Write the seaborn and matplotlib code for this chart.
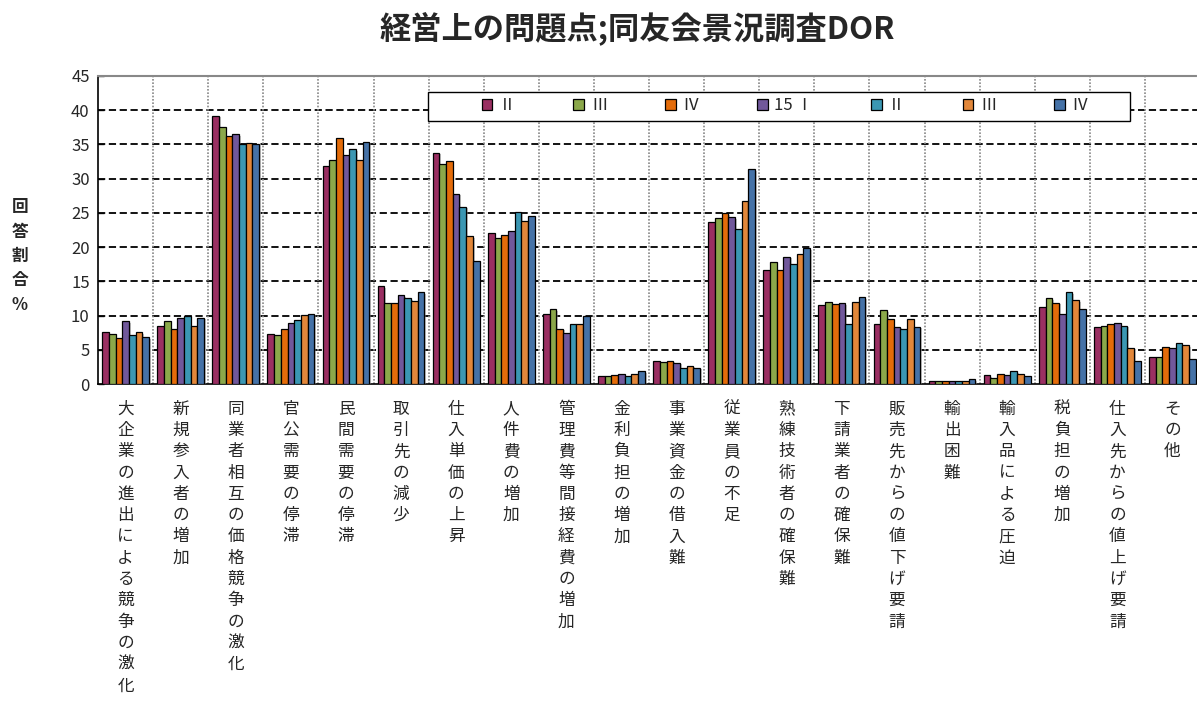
import matplotlib
matplotlib.use("Agg")
import matplotlib.pyplot as plt
import matplotlib.patheffects as pe
from matplotlib.patches import Patch, Rectangle
import numpy as np
import pandas as pd
import seaborn as sns

# 問題項目
categories = [
    "大企業の進出による競争の激化", "新規参入者の増加", "同業者相互の価格競争の激化",
    "官公需要の停滞", "民間需要の停滞", "取引先の減少", "仕入単価の上昇",
    "人件費の増加", "管理費等間接経費の増加", "金利負担の増加", "事業資金の借入難",
    "従業員の不足", "熟練技術者の確保難", "下請業者の確保難", "販売先からの値下げ要請",
    "輸出困難", "輸入品による圧迫", "税負担の増加", "仕入先からの値上げ要請", "その他",
]

# 期別の回答割合(%)
q14_2 = [7.6, 8.5, 39.2, 7.3, 31.9, 14.3, 33.8, 22.1, 10.2, 1.1, 3.3, 23.7, 16.6, 11.5, 8.7, 0.5, 1.3, 11.3, 8.3, 3.9]
q14_3 = [7.3, 9.2, 37.6, 7.1, 32.7, 11.8, 32.1, 21.4, 10.9, 1.2, 3.2, 24.3, 17.8, 12.0, 10.8, 0.5, 0.9, 12.5, 8.5, 4.0]
q14_4 = [6.7, 8.0, 36.3, 8.1, 36.0, 11.8, 32.6, 21.8, 8.1, 1.3, 3.4, 25.0, 16.7, 11.7, 9.5, 0.4, 1.4, 11.9, 8.7, 5.4]
q15_1 = [9.2, 9.7, 36.5, 8.9, 33.4, 13.0, 27.8, 22.4, 7.4, 1.4, 3.1, 24.4, 18.6, 11.8, 8.4, 0.5, 1.3, 10.2, 8.9, 5.3]
q15_2 = [7.1, 9.9, 35.1, 9.4, 34.3, 12.5, 25.9, 25.1, 8.7, 1.2, 2.4, 22.6, 17.5, 8.8, 8.1, 0.4, 1.9, 13.4, 8.5, 6.0]
q15_3 = [7.6, 8.5, 35.2, 10.1, 32.7, 12.1, 21.6, 23.8, 8.7, 1.4, 2.7, 26.8, 19.0, 12.0, 9.5, 0.5, 1.4, 12.2, 5.3, 5.7]
q15_4 = [6.8, 9.7, 35.1, 10.3, 35.4, 13.4, 17.9, 24.6, 9.9, 1.9, 2.4, 31.4, 19.8, 12.7, 8.4, 0.7, 1.2, 10.9, 3.4, 3.7]

period_keys = ["14Ⅱ", "14Ⅲ", "14Ⅳ", "15Ⅰ", "15Ⅱ", "15Ⅲ", "15Ⅳ"]
legend_labels = ["Ⅱ", "Ⅲ", "Ⅳ", "15 Ⅰ", "Ⅱ", "Ⅲ", "Ⅳ"]
series = [q14_2, q14_3, q14_4, q15_1, q15_2, q15_3, q15_4]
colors = ["#9A2F62", "#8BA84A", "#E46C0A", "#71589B", "#3B97B3", "#E2873A", "#4572A7"]

rows = []
for key, vals in zip(period_keys, series):
    for cat, v in zip(categories, vals):
        rows.append({"項目": cat, "期": key, "割合": v})
df = pd.DataFrame(rows)

sns.set_theme(style="white")
plt.rcParams["font.family"] = ["Noto Sans CJK JP", "DejaVu Sans"]

W, H = 1197, 702
fig = plt.figure(figsize=(W / 100, H / 100), dpi=100)
ax = fig.add_axes([98 / W, 1 - 384 / H, (1200 - 98) / W, (384 - 76) / H])

sns.barplot(
    data=df, x="項目", y="割合", hue="期",
    order=categories, hue_order=period_keys, palette=colors,
    width=0.85, edgecolor="black", linewidth=0.9, saturation=1,
    errorbar=None, legend=False, ax=ax, zorder=3,
)
for bar in ax.patches:
    bar.set_path_effects([
        pe.SimplePatchShadow(offset=(1.2, -1.2), shadow_rgbFace="#888888", alpha=0.5),
        pe.Normal(),
    ])

n = len(categories)
ax.set_xlim(-0.5, n - 0.5)
ax.set_ylim(0, 45)
ax.set_yticks(np.arange(0, 46, 5))
ax.set_yticklabels([str(v) for v in range(0, 46, 5)], fontsize=12)

# 横の破線グリッド
for yv in range(5, 45, 5):
    ax.axhline(yv, color="black", linestyle=(0, (4, 2)), linewidth=1.3, zorder=1)
# 項目区切りの縦点線
for xv in np.arange(0.5, n - 0.5, 1):
    ax.axvline(xv, color="#888888", linestyle=(0, (1, 1)), linewidth=1.2, zorder=1)

ax.spines["left"].set_color("black")
ax.spines["left"].set_linewidth(1.2)
ax.spines["bottom"].set_color("black")
ax.spines["bottom"].set_linewidth(1.2)
ax.spines["top"].set_color("#888888")
ax.spines["top"].set_linestyle((0, (1, 1)))
ax.spines["top"].set_linewidth(1.5)
ax.spines["right"].set_visible(False)
ax.tick_params(axis="y", direction="in", length=4, width=1, left=True, pad=6)
ax.tick_params(axis="x", length=0, pad=12)

ax.set_xticks(range(n))
ax.set_xticklabels(["\n".join(c) for c in categories], fontsize=12,
                   va="top", linespacing=1.33)
ax.set_xlabel("")
ax.set_ylabel("")

fig.text(20 / W, 1 - 256 / H, "\n".join("回答割合%"), fontsize=12,
         fontweight="bold", ha="center", va="center", linespacing=1.45)

fig.text(637 / W, 1 - 28 / H, "経営上の問題点;同友会景況調査DOR",
         fontsize=22.5, fontweight="bold", ha="center", va="center")

# 凡例の枠
fig.add_artist(Rectangle((428 / W, 1 - 121 / H), 702 / W, 29 / H,
                         transform=fig.transFigure, facecolor="white",
                         edgecolor="black", linewidth=1.0, zorder=5))
handles = [Patch(facecolor=c, edgecolor="black", linewidth=0.9) for c in colors]
leg = fig.legend(
    handles, legend_labels, ncol=7, loc="center",
    bbox_to_anchor=(785 / W, 1 - 106 / H), bbox_transform=fig.transFigure,
    fontsize=12, handlelength=0.65, handleheight=0.65, handletextpad=0.4,
    columnspacing=3.45, frameon=False, borderaxespad=0,
)
leg.set_zorder(6)

fig.savefig("out.png", dpi=100)
